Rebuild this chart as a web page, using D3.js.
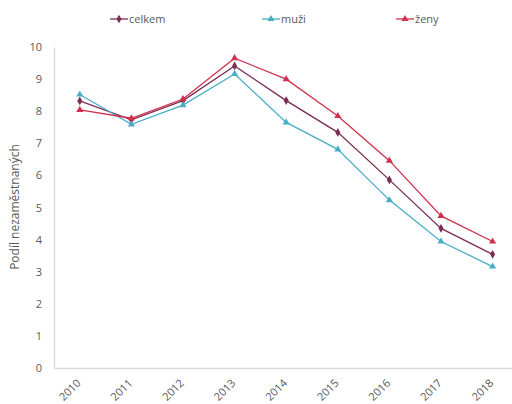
<!DOCTYPE html>
<html>
<head>
<meta charset="utf-8">
<script src="https://cdn.jsdelivr.net/npm/d3@7"></script>
<style>
  body { margin: 0; background: #fff; }
  text { font-family: "Open Sans", "Liberation Sans", sans-serif; fill: #595959; }
</style>
</head>
<body>
<div id="chart"></div>
<script>
const years = ["2010", "2011", "2012", "2013", "2014", "2015", "2016", "2017", "2018"];
const celkem = [8.32, 7.73, 8.33, 9.41, 8.33, 7.34, 5.86, 4.35, 3.54];
const muzi = [8.52, 7.59, 8.19, 9.16, 7.65, 6.81, 5.23, 3.94, 3.16];
const zeny = [8.04, 7.78, 8.38, 9.65, 9.0, 7.85, 6.46, 4.74, 3.94];
const yTicks = [0, 1, 2, 3, 4, 5, 6, 7, 8, 9, 10];

const series = [
  { name: "celkem", values: celkem, color: "#7a2c52", symbol: d3.symbolDiamond },
  { name: "muži", values: muzi, color: "#47aec6", symbol: d3.symbolTriangle },
  { name: "ženy", values: zeny, color: "#d0304b", symbol: d3.symbolTriangle }
];

const w = 512, h = 404;
const marginLeft = 54, marginTop = 47, axisBottom = 368;
const step = 51.6;

const svg = d3.select("#chart").append("svg")
  .attr("width", w)
  .attr("height", h);

const x = d3.scaleBand()
  .domain(years)
  .range([marginLeft, marginLeft + step * years.length]);

const y = d3.scaleLinear()
  .domain([0, 10])
  .range([axisBottom, marginTop]);

// y axis
const yAxis = svg.append("g")
  .attr("transform", "translate(" + marginLeft + ",0)")
  .call(d3.axisLeft(y).tickValues(yTicks).tickSize(0).tickPadding(12));
yAxis.select(".domain").attr("stroke", "#d9d9d9").attr("stroke-width", 1.5);
yAxis.selectAll("text").style("font-size", "11px").attr("fill", "#595959");

// x axis
const xAxis = svg.append("g")
  .attr("transform", "translate(0," + axisBottom + ")")
  .call(d3.axisBottom(x).tickSize(0));
xAxis.select(".domain").attr("stroke", "#d9d9d9").attr("stroke-width", 1.5);
xAxis.selectAll("text")
  .style("font-size", "11px")
  .attr("fill", "#595959")
  .attr("text-anchor", "end")
  .attr("y", 0)
  .attr("dy", "0.35em")
  .attr("transform", "translate(-1,13) rotate(-45)");

// y title
svg.append("text")
  .attr("transform", "translate(19,207) rotate(-90)")
  .attr("text-anchor", "middle")
  .style("font-size", "12px")
  .text("Podíl nezaměstnaných");

const line = d3.line()
  .x((d, i) => x(years[i]) + x.bandwidth() / 2)
  .y(d => y(d));

series.forEach(function(s) {
  svg.append("path")
    .datum(s.values)
    .attr("d", line)
    .attr("fill", "none")
    .attr("stroke", s.color)
    .attr("stroke-width", 1.3);

  svg.selectAll(null)
    .data(s.values)
    .enter()
    .append("path")
    .attr("d", d3.symbol().type(s.symbol).size(22))
    .attr("transform", (d, i) => "translate(" + (x(years[i]) + x.bandwidth() / 2) + "," + y(d) + ")")
    .attr("fill", s.color);
});

// legend
const legendX = [110, 262, 396];
const legend = svg.selectAll(".legend")
  .data(series)
  .enter()
  .append("g")
  .attr("class", "legend")
  .attr("transform", (d, i) => "translate(" + legendX[i] + ",19)");

legend.append("line")
  .attr("x1", 0).attr("x2", 18)
  .attr("stroke", d => d.color)
  .attr("stroke-width", 1.3);

legend.append("path")
  .attr("d", d => d3.symbol().type(d.symbol).size(22)())
  .attr("transform", "translate(9,0)")
  .attr("fill", d => d.color);

legend.append("text")
  .attr("x", 19)
  .attr("y", 4)
  .style("font-size", "11px")
  .text(d => d.name);
</script>
</body>
</html>
